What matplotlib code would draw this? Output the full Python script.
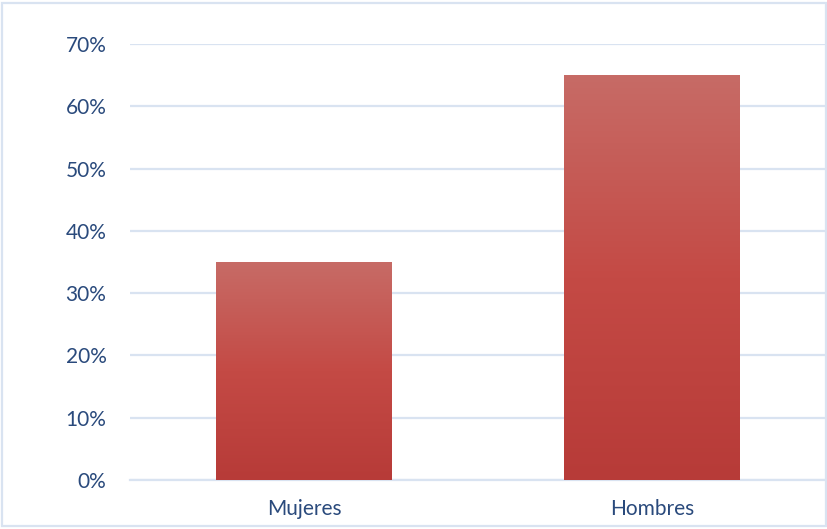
import numpy as np
import matplotlib.pyplot as plt
from matplotlib.colors import LinearSegmentedColormap
from matplotlib.patches import Rectangle
from matplotlib.ticker import PercentFormatter

categories = ["Mujeres", "Hombres"]
values = [0.35, 0.65]
yticks = [0, 0.1, 0.2, 0.3, 0.4, 0.5, 0.6, 0.7]

label_color = "#2A4A7C"
grid_color = "#D9E3F1"

plt.rcParams['font.family'] = ['Lato', 'DejaVu Sans']

fig = plt.figure(figsize=(8.28, 5.29), dpi=100)
ax = fig.add_axes([130 / 828, 49 / 529, 696 / 828, 436 / 529])

x = np.arange(len(categories))
bars = ax.bar(x, values, width=0.505, color="#C44A45", zorder=2)

# vertical gradient fill for each bar
grad = LinearSegmentedColormap.from_list("g", ["#B73B38", "#C44A45", "#C76B66"])
for b in bars:
    x0, y0 = b.get_x(), b.get_y()
    w, h = b.get_width(), b.get_height()
    im = ax.imshow(np.linspace(0, 1, 256).reshape(-1, 1), cmap=grad, origin="lower",
                   extent=[x0, x0 + w, y0, y0 + h], aspect="auto", zorder=3)
    im.set_clip_path(b)

ax.set_xlim(-0.5, 1.5)
ax.set_ylim(0, 0.7)
ax.set_yticks(yticks)
ax.yaxis.set_major_formatter(PercentFormatter(1.0, decimals=0))
ax.set_xticks(x)
ax.set_xticklabels(categories)
ax.grid(axis="y", color=grid_color, linewidth=1.6, zorder=0)
ax.set_axisbelow(True)
for s in ["top", "right", "left"]:
    ax.spines[s].set_visible(False)
ax.spines["bottom"].set_color(grid_color)
ax.spines["bottom"].set_linewidth(1.6)
ax.tick_params(axis="both", length=0, labelsize=15, labelcolor=label_color)
ax.tick_params(axis="y", pad=17)
ax.tick_params(axis="x", pad=14)

# outer chart border
fig.patches.append(Rectangle((2 / 828, 3 / 529), 824 / 828, 523 / 529, transform=fig.transFigure,
                             fill=False, edgecolor=grid_color, linewidth=1.6))

fig.savefig("out.png", dpi=100)
